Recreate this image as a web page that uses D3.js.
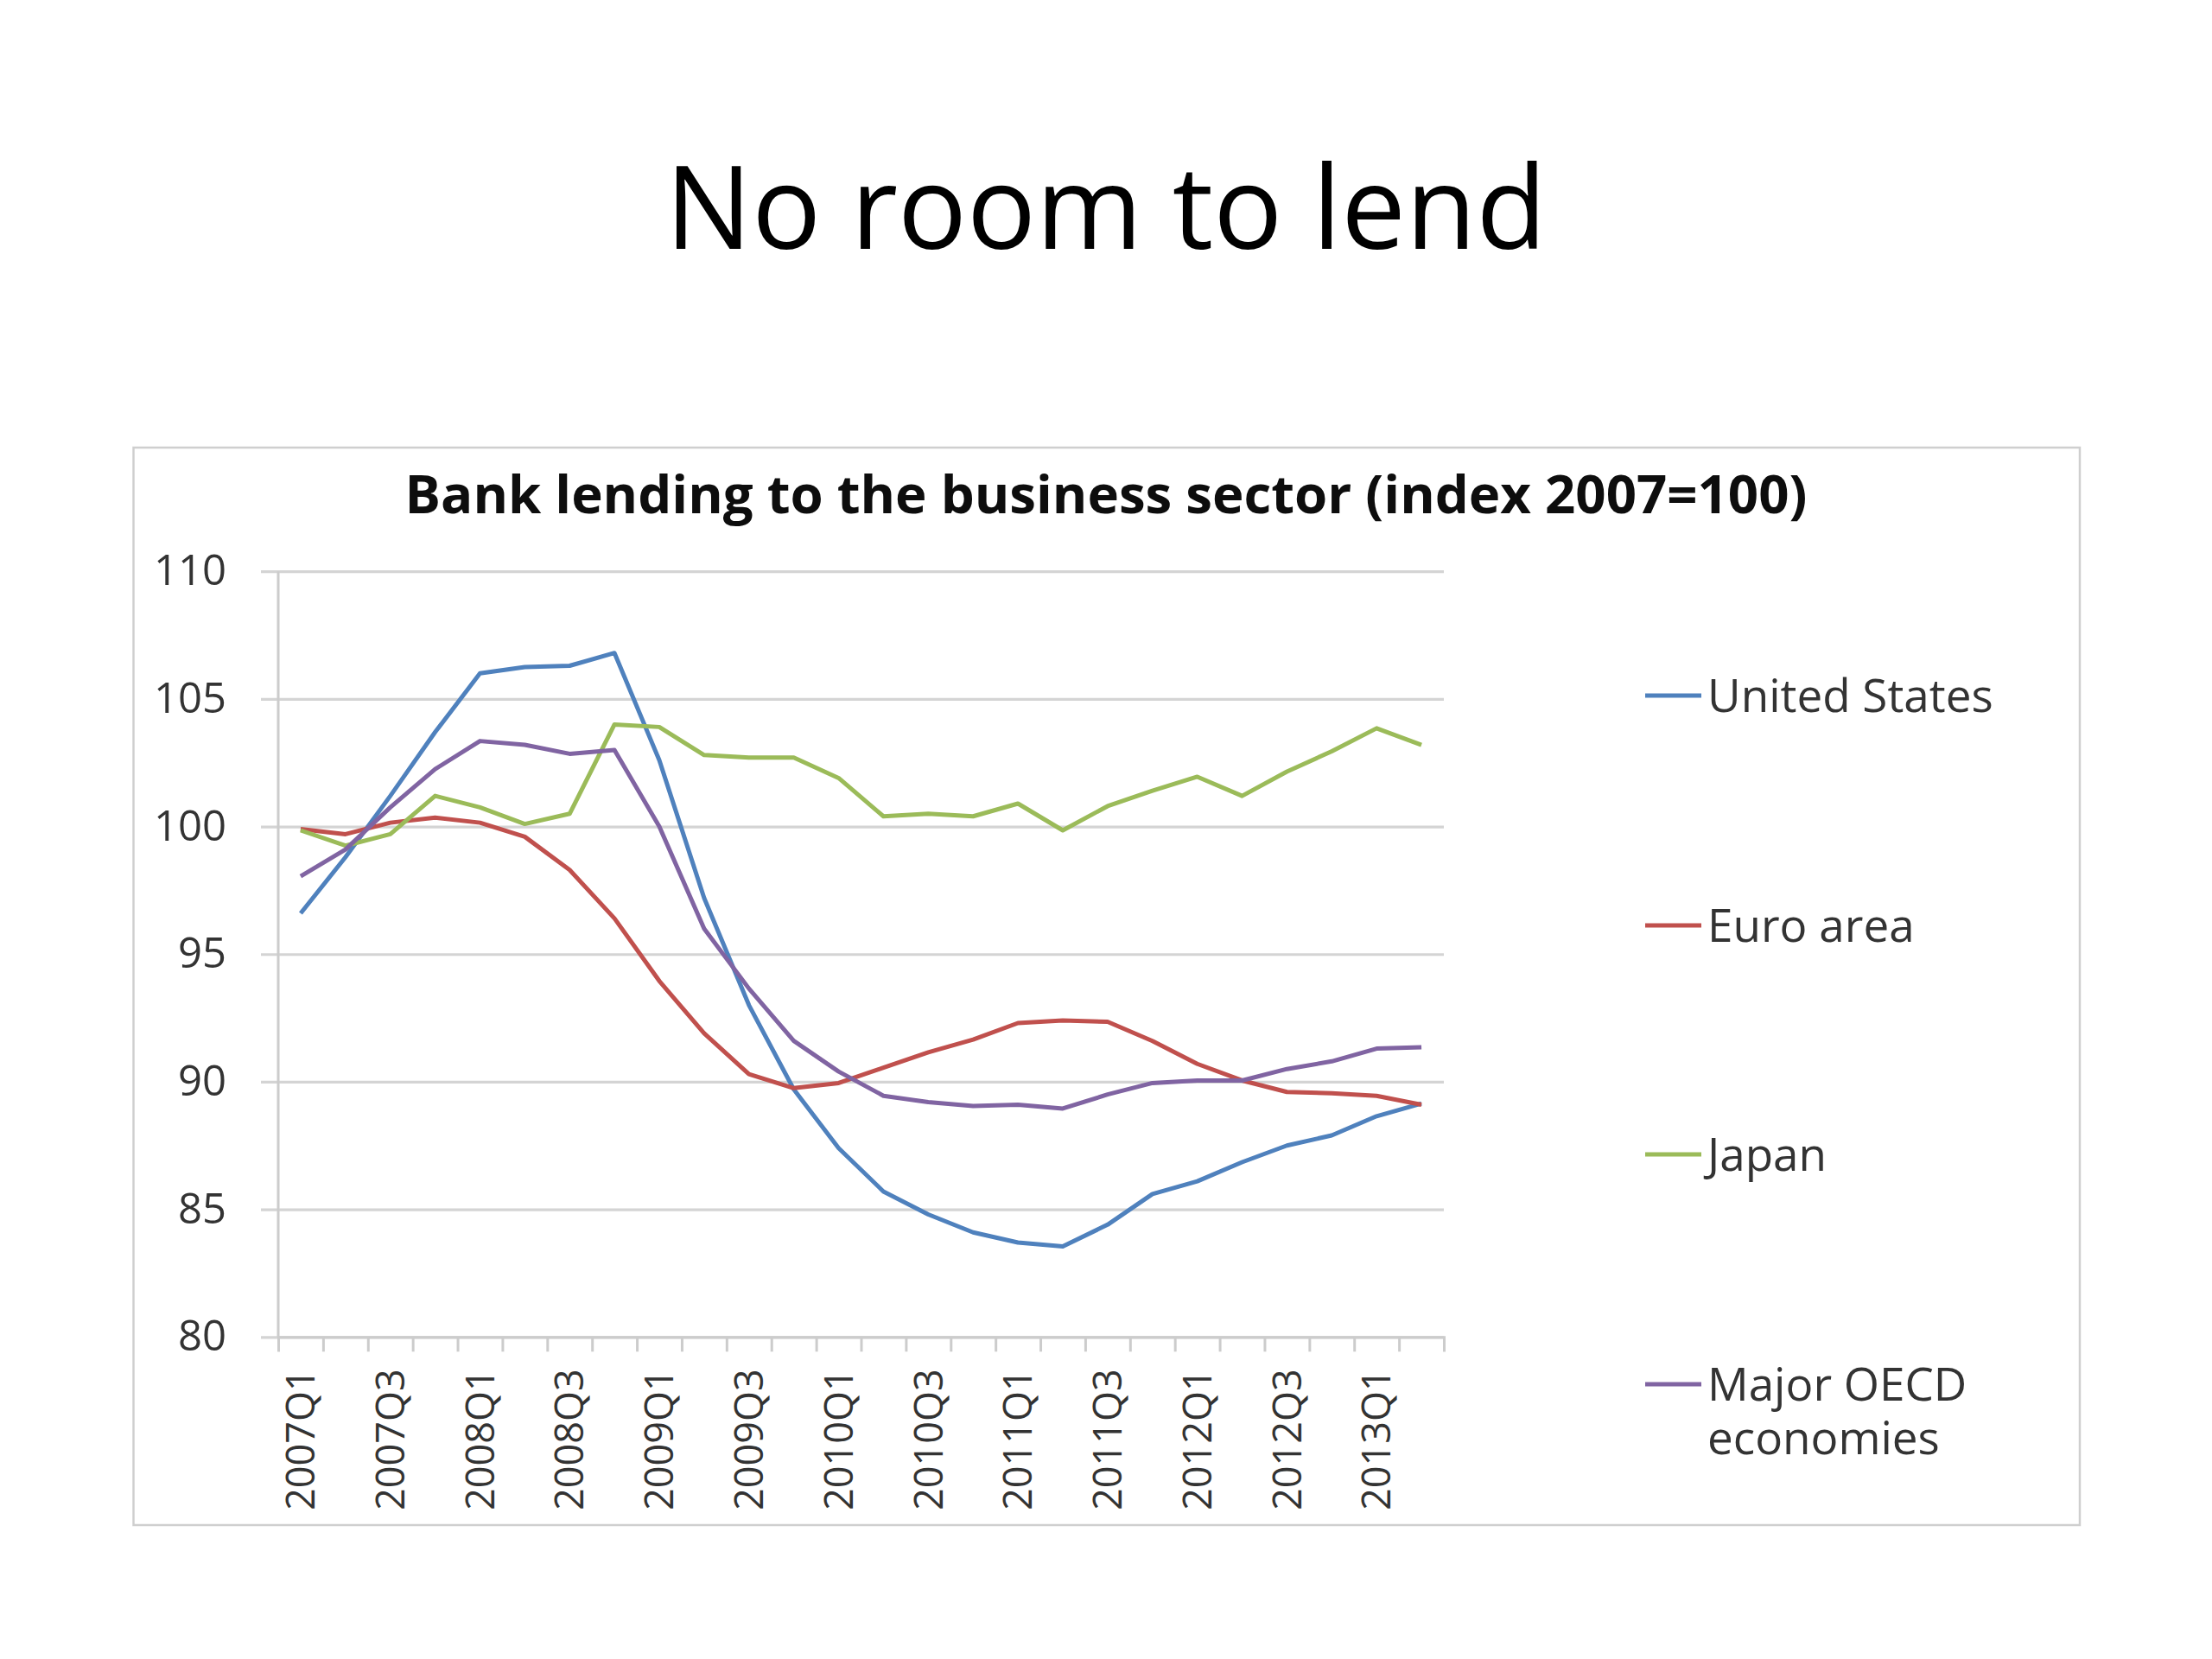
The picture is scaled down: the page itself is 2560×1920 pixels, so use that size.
<!DOCTYPE html>
<html><head><meta charset="utf-8">
<script src="https://cdn.jsdelivr.net/npm/d3@7"></script>
<style>body{margin:0;background:#fff}</style>
</head><body><svg id="c" width="2560" height="1920"></svg>
<script>
const quarters = ["2007Q1","2007Q2","2007Q3","2007Q4","2008Q1","2008Q2","2008Q3","2008Q4",
  "2009Q1","2009Q2","2009Q3","2009Q4","2010Q1","2010Q2","2010Q3","2010Q4",
  "2011Q1","2011Q2","2011Q3","2011Q4","2012Q1","2012Q2","2012Q3","2012Q4","2013Q1","2013Q2"];
const unitedStates = [96.6,98.8,101.2,103.7,106.0,106.25,106.3,106.8,102.6,97.2,93.0,89.7,87.4,85.7,84.8,84.1,83.7,83.55,84.4,85.6,86.1,86.85,87.5,87.9,88.65,89.15];
const euroArea = [99.9,99.7,100.15,100.35,100.15,99.6,98.3,96.4,93.95,91.9,90.3,89.75,89.95,90.55,91.15,91.65,92.3,92.4,92.35,91.6,90.7,90.05,89.6,89.55,89.45,89.1];
const japan = [99.85,99.25,99.7,101.2,100.75,100.1,100.5,104.0,103.9,102.8,102.7,102.7,101.9,100.4,100.5,100.4,100.9,99.85,100.8,101.4,101.95,101.2,102.15,102.95,103.85,103.2];
const majorOECD = [98.05,99.1,100.75,102.25,103.35,103.2,102.85,103.0,100.0,96.0,93.65,91.6,90.4,89.45,89.2,89.05,89.1,88.95,89.5,89.95,90.05,90.05,90.5,90.8,91.3,91.35];
const seriesNames = ["United States","Euro area","Japan","Major OECD economies"];
const seriesColors = ["#4F81BD","#C0504D","#9BBB59","#8064A2"];
const yTicks = [80,85,90,95,100,105,110];
const pageTitle = "No room to lend";
const chartTitle = "Bank lending to the business sector (index 2007=100)";

const series = [unitedStates, euroArea, japan, majorOECD];
const svg = d3.select("#c");
const FONT = "'Open Sans', sans-serif";

function fitWidth(sel, target){
  const w = sel.node().getComputedTextLength();
  const fs = parseFloat(sel.attr("font-size"));
  sel.attr("font-size", fs * target / w);
}

// page title
const t1 = svg.append("text").attr("x",1280).attr("y",288).attr("text-anchor","middle")
  .attr("font-family",FONT).attr("font-size",137).attr("fill","#000").text(pageTitle);
fitWidth(t1, 1020);

// chart frame
svg.append("rect").attr("x",154.5).attr("y",518).attr("width",2252.5).attr("height",1247)
  .attr("fill","none").attr("stroke","#cfcfcf").attr("stroke-width",2.5);

const t2 = svg.append("text").attr("x",1280).attr("y",594).attr("text-anchor","middle")
  .attr("font-family",FONT).attr("font-weight","bold").attr("font-size",52).attr("fill","#0d0d0d").text(chartTitle);
fitWidth(t2, 1623);

const x0 = 322, x1 = 1671, yTop = 661.2, yBot = 1547.3;
const x = d3.scaleBand().domain(quarters).range([x0,x1]).paddingInner(0).paddingOuter(0);
const xi = d3.scaleLinear().domain([0, quarters.length]).range([x0,x1]);
const y = d3.scaleLinear().domain([80,110]).range([yBot,yTop]);

// gridlines + y labels
const gy = svg.append("g").attr("transform",`translate(${x1},0)`)
  .call(d3.axisLeft(y).tickValues(yTicks).tickSize(x1-302).tickPadding(40).tickFormat(d3.format("d")));
gy.select(".domain").remove();
gy.selectAll(".tick line").attr("stroke","#d4d4d4").attr("stroke-width",3.2);
gy.selectAll(".tick text").attr("font-family",FONT).attr("font-size",49).attr("fill","#333");

// y axis line
svg.append("line").attr("x1",x0).attr("x2",x0).attr("y1",y(110)).attr("y2",y(80))
  .attr("stroke","#cccccc").attr("stroke-width",3);

// x boundary ticks
const gt = svg.append("g").attr("transform",`translate(0,${yBot})`)
  .call(d3.axisBottom(xi).tickValues(d3.range(quarters.length+1)).tickSize(17).tickFormat(""));
gt.select(".domain").attr("stroke","#cccccc").attr("stroke-width",3);
gt.selectAll(".tick line").attr("stroke","#cccccc").attr("stroke-width",3);

// x labels
const gx = svg.append("g").attr("transform",`translate(0,${yBot})`)
  .call(d3.axisBottom(x).tickSize(0).tickFormat((d,i)=> i%2===0 ? d : ""));
gx.select(".domain").remove();
gx.selectAll(".tick text").attr("transform","rotate(-90)").attr("x",-37).attr("y",0).attr("dy","0.36em")
  .style("text-anchor","end").attr("font-family",FONT).attr("font-size",45).attr("fill","#333");

// lines
const line = d3.line().x((d,i)=> x(quarters[i]) + x.bandwidth()/2).y(d=> y(d));
series.forEach((s,k)=>{
  svg.append("path").datum(s).attr("d",line).attr("fill","none")
    .attr("stroke",seriesColors[k]).attr("stroke-width",5).attr("stroke-linejoin","round");
});

// legend
const legY = [805,1071,1336,1602];
const lg = svg.append("g");
seriesNames.forEach((n,k)=>{
  lg.append("line").attr("x1",1904).attr("x2",1969).attr("y1",legY[k]).attr("y2",legY[k])
    .attr("stroke",seriesColors[k]).attr("stroke-width",5);
});
const lfs = 53;
const legendText = [["United States"],["Euro area"],["Japan"],["Major OECD","economies"]];
legendText.forEach((lines,k)=>{
  lines.forEach((ln,j)=>{
    lg.append("text").attr("x",1976).attr("y",legY[k] + 0.357*lfs + j*62)
      .attr("font-family",FONT).attr("font-size",lfs).attr("fill","#333").text(ln);
  });
});
</script></body></html>
